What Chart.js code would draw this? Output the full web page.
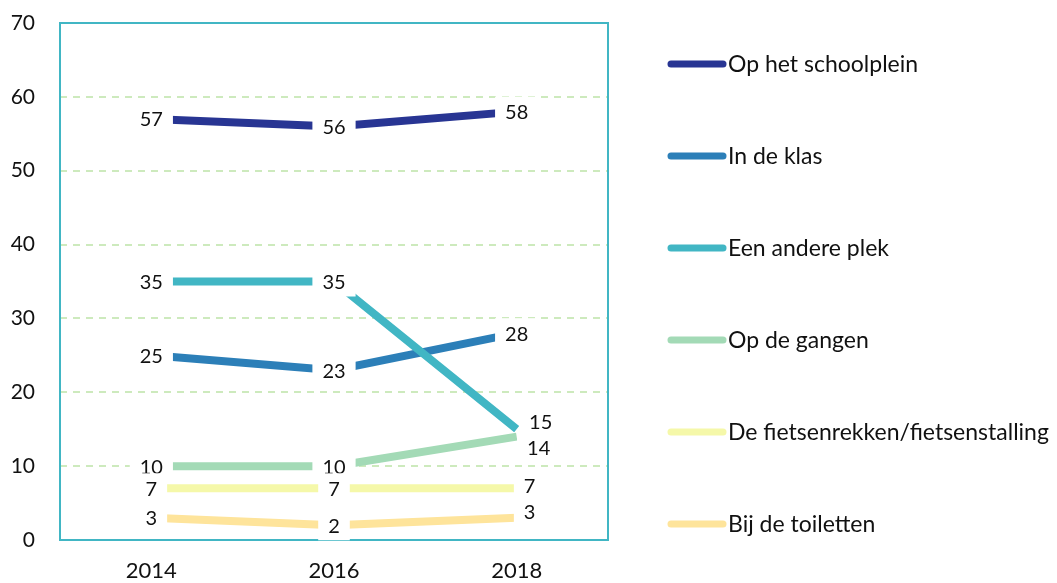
<!DOCTYPE html>
<html>
<head>
<meta charset="utf-8">
<script src="https://cdn.jsdelivr.net/npm/chart.js@4.4.1/dist/chart.umd.min.js"></script>
<style>
  body { margin: 0; background: #fff; }
  #wrap { width: 1057px; height: 583px; position: relative; }
</style>
</head>
<body>
<div id="wrap"><canvas id="myChart"></canvas></div>
<script>
const years = ['2014', '2016', '2018'];
const seriesNames = ['Op het schoolplein', 'In de klas', 'Een andere plek', 'Op de gangen', 'De fietsenrekken/fietsenstalling', 'Bij de toiletten'];
const schoolplein = [57, 56, 58];
const klas = [25, 23, 28];
const anderePlek = [35, 35, 15];
const gangen = [10, 10, 14];
const fietsen = [7, 7, 7];
const toiletten = [3, 2, 3];
const yMin = 0, yMax = 70, yStep = 10;

const colors = ['#283593', '#2c7fb8', '#41b6c4', '#a3dab6', '#f5f8a9', '#fee49b'];
const fontFam = "Lato, 'Noto Sans', sans-serif";

// nudges for the crowded labels on the right
const labelShift = { '2-2': [24, -8], '3-2': [22, 11], '4-2': [13, -3], '5-2': [13, -6] };

const frame = {
    id: 'frame',
    beforeDatasetsDraw(chart) {
        const a = chart.chartArea, c = chart.ctx;
        c.save();
        c.strokeStyle = '#41b6c4';
        c.lineWidth = 2;
        c.strokeRect(a.left, a.top, a.right - a.left, a.bottom - a.top);
        c.restore();
    }
};

const valueLabels = {
    id: 'valueLabels',
    afterDatasetsDraw(chart) {
        const c = chart.ctx;
        c.save();
        c.font = '20px ' + fontFam;
        c.textAlign = 'center';
        c.textBaseline = 'middle';
        chart.data.datasets.forEach((ds, i) => {
            const meta = chart.getDatasetMeta(i);
            meta.data.forEach((pt, j) => {
                const s = labelShift[i + '-' + j] || [0, 0];
                const x = pt.x + s[0], y = pt.y + s[1];
                const txt = String(ds.data[j]);
                const w = c.measureText(txt).width + 20;
                c.fillStyle = '#fff';
                c.fillRect(x - w / 2, y - 15, w, 30);
                c.fillStyle = '#111';
                c.fillText(txt, x, y + 1);
            });
        });
        c.restore();
    }
};

const sideLegend = {
    id: 'sideLegend',
    afterDraw(chart) {
        const c = chart.ctx;
        c.save();
        c.font = '23px ' + fontFam;
        c.textBaseline = 'middle';
        c.lineCap = 'round';
        c.lineWidth = 7;
        seriesNames.forEach((name, i) => {
            const y = 64 + i * 92;
            c.strokeStyle = colors[i];
            c.beginPath();
            c.moveTo(671, y);
            c.lineTo(723, y);
            c.stroke();
            c.fillStyle = '#111';
            c.fillText(name, 728, y + 1);
        });
        c.restore();
    }
};

const allSeries = [schoolplein, klas, anderePlek, gangen, fietsen, toiletten];

const ctx = document.getElementById('myChart').getContext('2d');
const myChart = new Chart(ctx, {
    type: 'line',
    data: {
        labels: years,
        datasets: allSeries.map((vals, i) => ({
            label: seriesNames[i],
            data: vals,
            borderColor: colors[i],
            backgroundColor: colors[i],
            borderWidth: 8,
            borderCapStyle: 'butt',
            pointRadius: 0,
            tension: 0,
            order: i === 1 ? 1 : 0
        }))
    },
    options: {
        responsive: true,
        maintainAspectRatio: false,
        animation: false,
        layout: { padding: { top: 23, right: 449, left: 0, bottom: 0 } },
        plugins: {
            legend: { display: false },
            tooltip: { enabled: false }
        },
        scales: {
            x: {
                offset: true,
                grid: { display: false, drawTicks: false },
                border: { display: false },
                ticks: { padding: 18, color: '#111', font: { family: fontFam, size: 22 } },
                afterFit(s) { s.height = 43; s.paddingLeft = 0; s.paddingRight = 0; }
            },
            y: {
                min: yMin,
                max: yMax,
                ticks: { stepSize: yStep, padding: 25, color: '#111', font: { family: fontFam, size: 21 } },
                grid: { color: '#cdeabd', lineWidth: 2, drawTicks: false },
                border: { display: false, dash: [7, 6] },
                afterFit(s) { s.width = 60; s.paddingTop = 0; s.paddingBottom = 0; }
            }
        }
    },
    plugins: [frame, valueLabels, sideLegend]
});
</script>
</body>
</html>
